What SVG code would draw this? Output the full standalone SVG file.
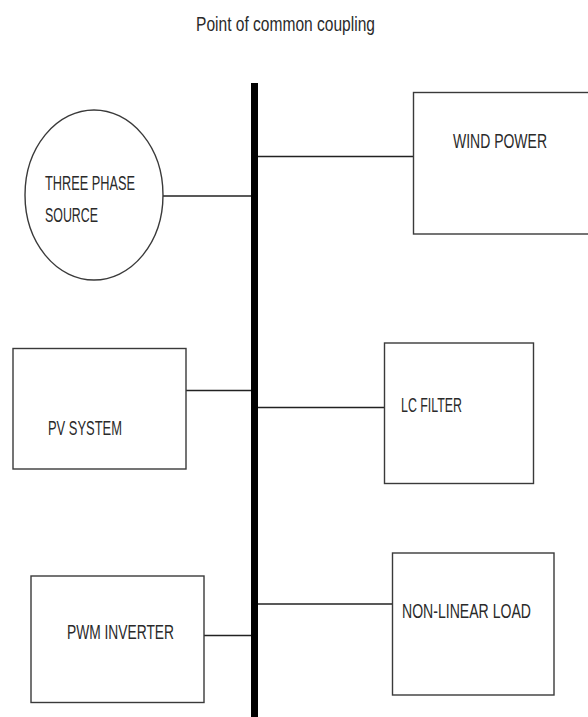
<svg xmlns="http://www.w3.org/2000/svg" width="588" height="717" viewBox="0 0 588 717">
<style>
.box{fill:#fff;stroke:#3a3a3a;stroke-width:1.4}
.lbl{font-family:"Liberation Sans",Arial,sans-serif;font-size:20px;fill:#2a2a2a}
.wire{stroke:#222;stroke-width:1.6;fill:none}
</style>
<rect width="588" height="717" fill="#fff"/>
<text class="lbl" x="196" y="31" textLength="179" lengthAdjust="spacingAndGlyphs">Point of common coupling</text>
<g id="connectors">
<line class="wire" x1="162" y1="196" x2="251" y2="196"/>
<line class="wire" x1="258" y1="156.5" x2="414" y2="156.5"/>
<line class="wire" x1="186" y1="390.5" x2="251" y2="390.5"/>
<line class="wire" x1="258" y1="407.5" x2="384" y2="407.5"/>
<line class="wire" x1="204" y1="635.5" x2="251" y2="635.5"/>
<line class="wire" x1="258" y1="604" x2="392" y2="604"/>
</g>
<g id="bus"><rect x="251" y="83" width="7" height="634" fill="#000"/></g>
<g id="three-phase-source">
<ellipse class="box" cx="94" cy="195" rx="69" ry="85"/>
<text class="lbl" x="45" y="190" textLength="90" lengthAdjust="spacingAndGlyphs">THREE PHASE</text>
<text class="lbl" x="45" y="222" textLength="53" lengthAdjust="spacingAndGlyphs">SOURCE</text>
</g>
<g id="wind-power">
<rect class="box" x="413.5" y="92.5" width="180" height="141.5"/>
<text class="lbl" x="453" y="148" textLength="94" lengthAdjust="spacingAndGlyphs">WIND POWER</text>
</g>
<g id="pv-system">
<rect class="box" x="13" y="348.5" width="173" height="120.5"/>
<text class="lbl" x="48" y="435" textLength="74" lengthAdjust="spacingAndGlyphs">PV SYSTEM</text>
</g>
<g id="lc-filter">
<rect class="box" x="384.5" y="343" width="149" height="140.5"/>
<text class="lbl" x="401" y="411.5" textLength="61" lengthAdjust="spacingAndGlyphs">LC FILTER</text>
</g>
<g id="pwm-inverter">
<rect class="box" x="31" y="576" width="173" height="126.5"/>
<text class="lbl" x="67" y="638.5" textLength="107" lengthAdjust="spacingAndGlyphs">PWM INVERTER</text>
</g>
<g id="non-linear-load">
<rect class="box" x="392.5" y="553" width="161.5" height="142"/>
<text class="lbl" x="402" y="617.5" textLength="129" lengthAdjust="spacingAndGlyphs">NON-LINEAR LOAD</text>
</g>
</svg>
